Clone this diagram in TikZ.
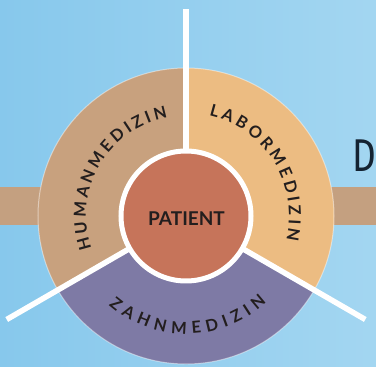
\documentclass[tikz,border=0pt]{standalone}
\usepackage{fontspec}
\usetikzlibrary{decorations.text}
\newfontfamily\labfont{Lato}
\newfontfamily\dfont{Fira Sans}
\newcommand\arcsz{\fontsize{16.5}{18}\selectfont}
\newcommand\arcfmt{\labfont\bfseries\arcsz\color{txt}}
\definecolor{bgl}{RGB}{135,200,236}
\definecolor{bgr}{RGB}{163,214,241}
\definecolor{bandc}{RGB}{196,160,128}
\definecolor{hum}{RGB}{200,161,126}
\definecolor{lab}{RGB}{236,188,130}
\definecolor{zahn}{RGB}{126,122,165}
\definecolor{pat}{RGB}{198,116,90}
\definecolor{txt}{RGB}{35,30,30}
\definecolor{dcol}{RGB}{20,35,50}
\begin{document}
\begin{tikzpicture}[x=1pt,y=1pt,
  divider/.style={white, line width=5.5pt, line cap=butt},
  arctext/.style={shift={(c)}, decorate,
    decoration={text along path, text align={fit to path},
      text={|\arcfmt|#1}}}]
\useasboundingbox (0,0) rectangle (376,367);
\clip (0,0) rectangle (376,367);
\shade[left color=bgl, right color=bgr] (0,0) rectangle (376,367);
\fill[bandc] (0,142) rectangle (376,180);
\coordinate (c) at (186,151);
\fill[hum] (c) -- ++(90:148) arc[start angle=90,end angle=210,radius=148] -- cycle;
\fill[zahn] (c) -- ++(210:148) arc[start angle=210,end angle=330,radius=148] -- cycle;
\fill[lab] (c) -- ++(-30:148) arc[start angle=-30,end angle=90,radius=148] -- cycle;
\draw[white, opacity=0.45, line width=1pt] (c) circle[radius=148];
\draw[divider] (c) -- ++(90:207) coordinate (e1);
\draw[divider] (c) -- ++(210:207) coordinate (e2);
\draw[divider] (c) -- ++(-30:207) coordinate (e3);
\node[circle, fill=pat, draw=white, line width=5pt, minimum size=130pt, inner sep=0pt] (patient) at (c) {};
\node[font=\labfont\bfseries\fontsize{19}{19}\selectfont, text=txt, inner sep=0pt] (patlabel) at (186.5,148.5) {PATIENT};
\path[arctext=HUMANMEDIZIN] (199:100) arc[start angle=199, end angle=100.5, radius=100];
\path[arctext=LABORMEDIZIN] (77:103) arc[start angle=77, end angle=-13.5, radius=103];
\path[arctext=ZAHNMEDIZIN] (229:118) arc[start angle=229, end angle=313, radius=118];
\node[font=\dfont\mdseries\fontsize{46}{46}\selectfont, text=dcol, anchor=base west, inner sep=0pt, xscale=0.8] (d) at (352,195) {D};
\end{tikzpicture}
\end{document}
